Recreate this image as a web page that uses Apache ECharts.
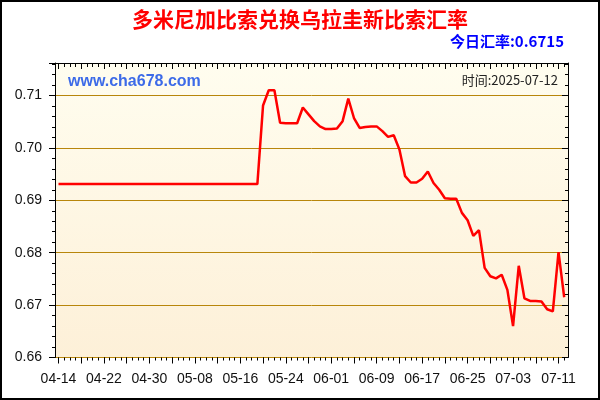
<!DOCTYPE html>
<html><head><meta charset="utf-8">
<script src="https://cdn.jsdelivr.net/npm/echarts@6/dist/echarts.min.js"></script>
<style>html,body{margin:0;padding:0;background:#fff}#c{width:600px;height:400px}</style>
</head><body><div id="c"></div>
<script>
const titleText = '多米尼加比索兑换乌拉圭新比索汇率';
const todayText = '今日汇率:0.6715';
const siteText = 'www.cha678.com';
const timeText = '时间:2025-07-12';
const dates = [
 '04-14','04-15','04-16','04-17','04-18','04-19','04-20','04-21','04-22','04-23','04-24','04-25','04-26','04-27','04-28','04-29','04-30',
 '05-01','05-02','05-03','05-04','05-05','05-06','05-07','05-08','05-09','05-10','05-11','05-12','05-13','05-14','05-15','05-16','05-17','05-18','05-19','05-20','05-21','05-22','05-23','05-24','05-25','05-26','05-27','05-28','05-29','05-30','05-31',
 '06-01','06-02','06-03','06-04','06-05','06-06','06-07','06-08','06-09','06-10','06-11','06-12','06-13','06-14','06-15','06-16','06-17','06-18','06-19','06-20','06-21','06-22','06-23','06-24','06-25','06-26','06-27','06-28','06-29','06-30',
 '07-01','07-02','07-03','07-04','07-05','07-06','07-07','07-08','07-09','07-10','07-11','07-12'
];
const rates = [
 0.6931,0.6931,0.6931,0.6931,0.6931,0.6931,0.6931,0.6931,0.6931,0.6931,0.6931,0.6931,0.6931,0.6931,0.6931,0.6931,0.6931,
 0.6931,0.6931,0.6931,0.6931,0.6931,0.6931,0.6931,0.6931,0.6931,0.6931,0.6931,0.6931,0.6931,0.6931,0.6931,0.6931,0.6931,0.6931,0.6931,
 0.7081,0.7110,0.7110,0.7048,0.7047,0.7047,0.7047,0.7077,0.7064,0.7051,0.7041,0.7036,
 0.7036,0.7037,0.7051,0.7094,0.7057,0.7038,0.7040,0.7041,0.7041,0.7032,0.7021,0.7024,0.6997,0.6946,0.6934,0.6934,
 0.6941,0.6955,0.6933,0.6920,0.6904,0.6903,0.6903,0.6876,0.6862,0.6832,0.6843,0.6771,0.6755,0.6751,
 0.6758,0.6729,0.6660,0.6775,0.6713,0.6708,0.6708,0.6707,0.6692,0.6688,0.6801,0.6715
];
const yMin = 0.66, yMax = 0.7162, yStep = 0.01;

const chart = echarts.init(document.getElementById('c'), null, {renderer:'canvas'});
const latin = "'Liberation Sans', Arial, sans-serif";
const gridA = {left:55, right:32, top:63, bottom:42.5};
const gridB = {left:58.5, right:35.8, top:63, bottom:42.5};
const catAxis = (pos, tickInt, len, inside, labels) => ({
  type:'category', gridIndex:1, position:pos, data:dates, boundaryGap:false,
  axisLine:{show:false},
  axisTick:{show:true, interval:tickInt, length:len, inside:inside, lineStyle:{color:'#000', width:1}},
  axisLabel: labels ? {show:true, interval:7, margin:15, color:'#111', fontFamily:latin, fontSize:14} : {show:false},
  splitLine:{show:false}
});
chart.setOption({
  animation:false,
  backgroundColor:'#fff',
  grid:[
    Object.assign({show:true, borderWidth:0, backgroundColor:new echarts.graphic.LinearGradient(0,0,0,1,[{offset:0,color:'#FFFDEF'},{offset:1,color:'#FDF0D8'}])}, gridA),
    gridB
  ],
  xAxis:[
    {type:'value', gridIndex:0, position:'top', min:0, max:1, axisLine:{show:true, lineStyle:{color:'#000', width:1}}, axisTick:{show:false}, axisLabel:{show:false}, splitLine:{show:false}},
    catAxis('bottom', 3, 6, false, true),
    catAxis('bottom', 0, 3, false, false),
    catAxis('top', 0, 4, true, false),
    catAxis('top', 3, 6, true, false)
  ],
  yAxis:[
    {type:'value', gridIndex:0, position:'left', min:yMin, max:yMax, interval:yStep,
     axisLine:{show:true, lineStyle:{color:'#000', width:1}},
     axisTick:{show:true, length:6, lineStyle:{color:'#000'}},
     minorTick:{show:true, splitNumber:5, length:3, lineStyle:{color:'#000'}},
     axisLabel:{show:true, margin:13, color:'#111', fontFamily:latin, fontSize:14, formatter:v=>v.toFixed(2), showMaxLabel:false},
     splitLine:{show:true, lineStyle:{color:'#B8860B', width:1}}},
    {type:'value', gridIndex:0, position:'right', min:yMin, max:yMax, interval:yStep,
     axisLine:{show:true, lineStyle:{color:'#000', width:1}},
     axisTick:{show:true, inside:true, length:6, lineStyle:{color:'#000'}},
     minorTick:{show:true, splitNumber:5, length:3, lineStyle:{color:'#000'}},
     axisLabel:{show:false}, splitLine:{show:false}},
    {type:'value', gridIndex:1, min:yMin, max:yMax, show:false}
  ],
  series:[{
    type:'line', xAxisIndex:1, yAxisIndex:2, data:rates, symbol:'none',
    lineStyle:{color:'#FF0000', width:2.5}, silent:true
  }],
  graphic:[
    {type:'rect', shape:{x:1, y:1, width:598, height:398}, style:{fill:null, stroke:'#000', lineWidth:2}, silent:true},
    {type:'text', left:'center', top:9, style:{text:titleText, fill:'#FF0000', font:"bold 21px 'Noto Sans CJK SC'"}},
    {type:'text', right:36, top:34, style:{text:todayText, fill:'#0000FF', font:"bold 15px 'Noto Sans CJK SC'"}},
    {type:'text', left:68, top:74, style:{text:siteText, fill:'#3D6BE8', font:"bold 16px 'Liberation Sans', Arial, sans-serif"}},
    {type:'text', right:42, top:74, style:{text:timeText, fill:'#222', font:"13px 'Noto Sans CJK SC'"}}
  ]
});
</script></body></html>
